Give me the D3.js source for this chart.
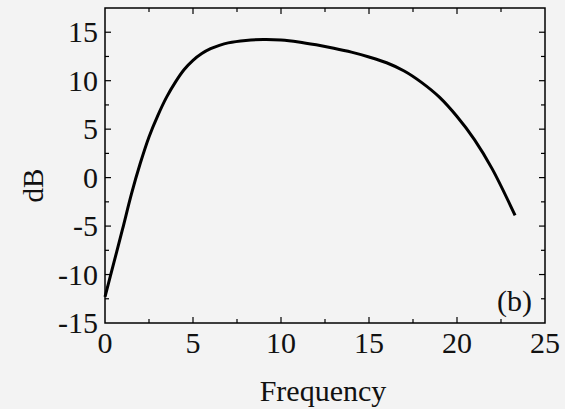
<!DOCTYPE html>
<html>
<head>
<meta charset="utf-8">
<script src="https://cdn.jsdelivr.net/npm/d3@7"></script>
<style>
  html, body { margin: 0; padding: 0; background: #f3f3f3; }
  svg { display: block; }
  text { font-family: "Liberation Serif", "Times New Roman", serif; fill: #111; }
</style>
</head>
<body>
<svg id="chart" width="565" height="409"></svg>
<script>
// Gain response (dB) against frequency
const frequency = [0, 0.5, 1.0, 1.5, 2.0, 2.5, 3.0, 3.5, 4.0, 4.5, 5.0, 5.5, 6.0, 6.5, 7.0, 8.0, 9.0, 10.0,
                   11.0, 12.0, 13.0, 14.0, 15.0, 16.0, 17.0, 18.0, 19.0, 20.0, 21.0, 22.0, 23.3];
const gainDb    = [-12.3, -8.8, -5.3, -1.7, 1.45, 4.2, 6.4, 8.3, 9.85, 11.15, 12.1, 12.8, 13.3, 13.65, 13.9, 14.15, 14.25, 14.2,
                   14.0, 13.7, 13.35, 12.95, 12.45, 11.85, 11.0, 9.8, 8.3, 6.3, 3.9, 0.9, -3.9];
const xTicks = [0, 5, 10, 15, 20, 25];
const yTicks = [-15, -10, -5, 0, 5, 10, 15];
const xMinorTicks = [2.5, 7.5, 12.5, 17.5, 22.5];
const yMinorTicks = [-12.5, -7.5, -2.5, 2.5, 7.5, 12.5];
const xLabel = "Frequency";
const yLabel = "dB";
const panelTag = "(b)";

const svg = d3.select("#chart");
const plot = { left: 105, right: 545, top: 8, bottom: 323 };

const x = d3.scaleLinear().domain([0, 25]).range([plot.left, plot.right]);
const y = d3.scaleLinear().domain([-15, 17.5]).range([plot.bottom, plot.top]);

const tickFont = 30;

// frame
svg.append("rect")
  .attr("x", plot.left).attr("y", plot.top)
  .attr("width", plot.right - plot.left).attr("height", plot.bottom - plot.top)
  .attr("fill", "none").attr("stroke", "#000").attr("stroke-width", 1.5);

// inward ticks on all four sides
const majorLen = 6, minorLen = 4;
function xTickMarks(vals, len) {
  svg.append("g").selectAll("line").data(vals).join("line")
    .attr("x1", d => x(d)).attr("x2", d => x(d))
    .attr("y1", plot.bottom).attr("y2", plot.bottom - len)
    .attr("stroke", "#000").attr("stroke-width", 1.2);
  svg.append("g").selectAll("line").data(vals).join("line")
    .attr("x1", d => x(d)).attr("x2", d => x(d))
    .attr("y1", plot.top).attr("y2", plot.top + len)
    .attr("stroke", "#000").attr("stroke-width", 1.2);
}
function yTickMarks(vals, len) {
  svg.append("g").selectAll("line").data(vals).join("line")
    .attr("y1", d => y(d)).attr("y2", d => y(d))
    .attr("x1", plot.left).attr("x2", plot.left + len)
    .attr("stroke", "#000").attr("stroke-width", 1.2);
  svg.append("g").selectAll("line").data(vals).join("line")
    .attr("y1", d => y(d)).attr("y2", d => y(d))
    .attr("x1", plot.right).attr("x2", plot.right - len)
    .attr("stroke", "#000").attr("stroke-width", 1.2);
}
xTickMarks(xTicks.filter(d => d > 0 && d < 25), majorLen);
xTickMarks(xMinorTicks, minorLen);
yTickMarks(yTicks.filter(d => d > -15), majorLen);
yTickMarks(yMinorTicks, minorLen);

// tick labels
svg.append("g").selectAll("text").data(xTicks).join("text")
  .attr("x", d => x(d)).attr("y", plot.bottom + 30)
  .attr("text-anchor", "middle")
  .attr("font-size", tickFont)
  .text(d => d);

svg.append("g").selectAll("text").data(yTicks).join("text")
  .attr("x", plot.left - 7).attr("y", d => y(d) + 10)
  .attr("text-anchor", "end")
  .attr("font-size", tickFont)
  .text(d => d);

// axis titles
svg.append("text")
  .attr("x", (plot.left + plot.right) / 2 - 2).attr("y", 401)
  .attr("text-anchor", "middle")
  .attr("font-size", 30)
  .text(xLabel);

svg.append("text")
  .attr("transform", `translate(43, ${(plot.top + plot.bottom) / 2 + 20}) rotate(-90)`)
  .attr("text-anchor", "middle")
  .attr("font-size", 29)
  .text(yLabel);

// panel tag
svg.append("text")
  .attr("x", plot.right - 13).attr("y", plot.bottom - 12)
  .attr("text-anchor", "end")
  .attr("font-size", 30)
  .text(panelTag);

// response curve
const line = d3.line()
  .x((d, i) => x(frequency[i]))
  .y(d => y(d))
  .curve(d3.curveCatmullRom.alpha(0.5));

svg.append("path")
  .datum(gainDb)
  .attr("d", line)
  .attr("fill", "none")
  .attr("stroke", "#000")
  .attr("stroke-width", 3)
  .attr("stroke-linejoin", "round");
</script>
</body>
</html>
